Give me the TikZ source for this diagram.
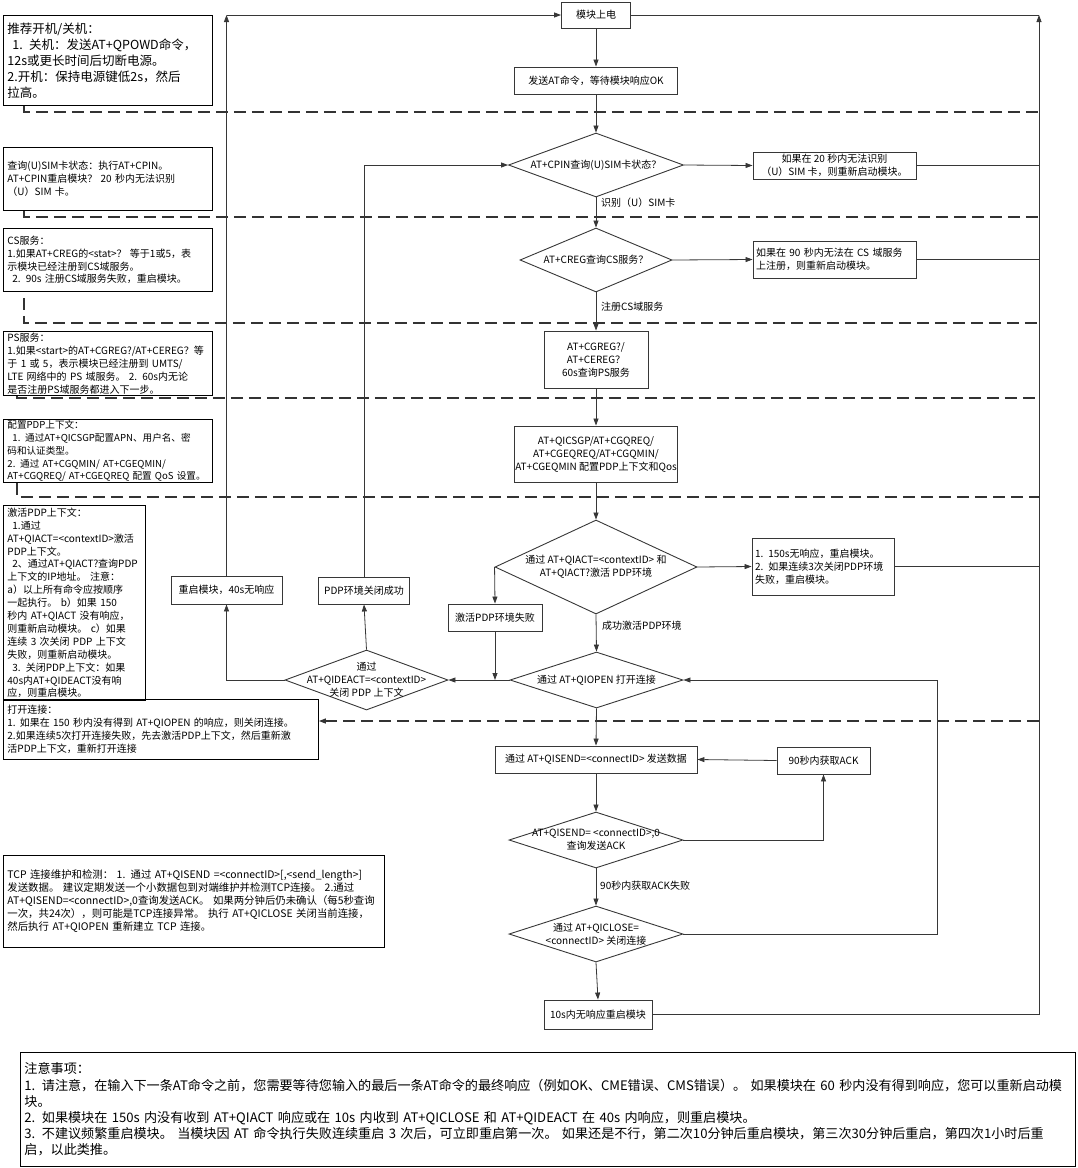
\documentclass[tikz,border=0pt]{standalone}
\usepackage{fontspec}
\setmainfont{Noto Sans CJK SC}
\usetikzlibrary{shapes.geometric, arrows.meta}
\definecolor{mygray}{RGB}{55,55,55}

\tikzset{
    box/.style={draw=mygray, line width=0.9pt, rectangle, inner sep=1pt, align=center, font=\fontsize{10}{13}\selectfont},
    notebox/.style={draw=black, line width=0.9pt, rectangle, anchor=north west, align=left, inner xsep=4pt, inner ysep=0pt, font=\fontsize{10}{12.9}\selectfont},
    decision/.style={draw=mygray, line width=0.9pt, diamond, inner sep=0pt},
    dectext/.style={align=center, font=\fontsize{10}{13}\selectfont, inner sep=0pt},
    arr/.style={draw=mygray, line width=0.8pt, -{Triangle[length=7pt,width=5pt]}},
    wire/.style={draw=mygray, line width=0.8pt},
    divider/.style={draw=black!80, line width=1.2pt, dash pattern=on 12pt off 6pt},
    edgetext/.style={anchor=west, font=\fontsize{10}{13}\selectfont, inner sep=1pt},
}

\begin{document}
\begin{tikzpicture}[x=1pt, y=-1pt]
    \useasboundingbox (0,0) rectangle (1077,1168);
    % Main flow
    \node[box, minimum width=69pt, minimum height=26pt] (PowerOn) at (596,15) {模块上电};
    \node[box, minimum width=163pt, minimum height=27pt] (SendAt) at (596,80.5) {发送AT命令，等待模块响应OK};
    \node[decision, minimum width=175pt, minimum height=64pt,
        label={[dectext]center:{AT+CPIN查询(U)SIM卡状态？}}] (CpinCheck) at (596,165) {};
    \node[box, minimum width=163pt, minimum height=27pt] (SimFail) at (834.5,165.5)
        {如果在 20 秒内无法识别\\（U）SIM 卡，则重新启动模块。};
    \node[decision, minimum width=152pt, minimum height=64pt,
        label={[dectext]center:{AT+CREG查询CS服务？}}] (CregCheck) at (596,260) {};
    \node[box, align=left, text width=157pt, inner xsep=3pt, minimum height=37pt] (CsFail) at (834.5,259.5)
        {如果在 90 秒内无法在 CS 域服务\\上注册，则重新启动模块。};
    \node[box, minimum width=104pt, minimum height=57pt] (PsQuery) at (596,359.5)
        {AT+CGREG?/\\AT+CEREG？\\60s查询PS服务};
    \node[box, minimum width=162pt, minimum height=56pt] (PdpConfig) at (596,454)
        {AT+QICSGP/AT+CGQREQ/\\AT+CGEQREQ/AT+CGQMIN/\\AT+CGEQMIN 配置PDP上下文和Qos};
    \node[decision, minimum width=202pt, minimum height=94pt,
        label={[dectext]center:{通过 AT+QIACT=<contextID> 和\\AT+QIACT?激活 PDP环境}}] (ActCheck) at (596,567) {};
    \node[box, align=left, text width=136pt, inner xsep=3pt, minimum height=57pt] (ActTimeout) at (823,566.5)
        {1. 150s无响应，重启模块。\\2. 如果连续3次关闭PDP环境\\失败，重启模块。};
    \node[box, minimum width=94pt, minimum height=27pt] (ActFail) at (495,617.5) {激活PDP环境失败};
    \node[decision, minimum width=173pt, minimum height=56pt,
        label={[dectext]center:{通过 AT+QIOPEN 打开连接}}] (OpenCheck) at (596.5,680) {};
    \node[decision, minimum width=163pt, minimum height=60pt,
        label={[dectext]center:{通过\\AT+QIDEACT=<contextID>\\关闭 PDP 上下文}}] (DeactCheck) at (366.5,680) {};
    \node[box, minimum width=111pt, minimum height=28pt] (RebootForty) at (226.5,590) {重启模块，40s无响应};
    \node[box, minimum width=91pt, minimum height=27pt] (PdpClosed) at (364,590.5) {PDP环境关闭成功};
    \node[box, minimum width=202pt, minimum height=27pt] (SendData) at (596,759.5) {通过 AT+QISEND=<connectID> 发送数据};
    \node[box, minimum width=93pt, minimum height=27pt] (AckWait) at (823.5,760.5) {90秒内获取ACK};
    \node[decision, minimum width=174pt, minimum height=56pt,
        label={[dectext]center:{AT+QISEND= <connectID>,0\\查询发送ACK}}] (AckCheck) at (596,840) {};
    \node[decision, minimum width=174pt, minimum height=56pt,
        label={[dectext]center:{通过 AT+QICLOSE=\\<connectID> 关闭连接}}] (CloseCheck) at (596,934) {};
    \node[box, minimum width=108pt, minimum height=29pt] (RebootTen) at (598,1014.5) {10s内无响应重启模块};

    % Branch labels
    \node[edgetext] (LblSim) at (600,203) {识别（U）SIM卡};
    \node[edgetext] (LblCs) at (600,307) {注册CS域服务};
    \node[edgetext] (LblAct) at (601,626) {成功激活PDP环境};
    \node[edgetext] (LblAck) at (599,886) {90秒内获取ACK失败};

    % Notes
    \node[notebox, text width=201pt, minimum height=90pt, font=\fontsize{12.5}{16}\selectfont] (NotePower) at (3,15)
        {推荐开机/关机：\\\hspace*{5pt}1. 关机：发送AT+QPOWD命令，\\12s或更长时间后切断电源。\\2.开机：保持电源键低2s，然后\\拉高。};
    \node[notebox, text width=201pt, minimum height=63pt] (NoteSim) at (3,147)
        {查询(U)SIM卡状态：执行AT+CPIN。\\AT+CPIN重启模块？ 20 秒内无法识别\\（U）SIM 卡。};
    \node[notebox, text width=201pt, minimum height=63pt] (NoteCs) at (3,228)
        {CS服务：\\1.如果AT+CREG的<stat>？ 等于1或5，表\\示模块已经注册到CS域服务。\\\hspace*{5pt}2. 90s 注册CS域服务失败，重启模块。};
    \node[notebox, text width=201pt, minimum height=64pt] (NotePs) at (3,331)
        {PS服务：\\1.如果<start>的AT+CGREG?/AT+CEREG？等\\于 1 或 5，表示模块已经注册到 UMTS/\\LTE 网络中的 PS 域服务。 2. 60s内无论\\是否注册PS域服务都进入下一步。};
    \node[notebox, text width=201pt, minimum height=63pt, font=\fontsize{9.6}{12.9}\selectfont] (NotePdp) at (3,419)
        {配置PDP上下文：\\\hspace*{5pt}1. 通过AT+QICSGP配置APN、用户名、密\\码和认证类型。\\2. 通过 AT+CGQMIN/ AT+CGEQMIN/\\AT+CGQREQ/ AT+CGEQREQ 配置 QoS 设置。};
    \node[notebox, text width=134pt, minimum height=195pt] (NoteAct) at (3,505)
        {激活PDP上下文：\\\hspace*{5pt}1.通过\\AT+QIACT=<contextID>激活\\PDP上下文。\\\hspace*{5pt}2、通过AT+QIACT?查询PDP\\上下文的IP地址。 注意：\\a）以上所有命令应按顺序\\一起执行。 b）如果 150\\秒内 AT+QIACT 没有响应，\\则重新启动模块。 c）如果\\连续 3 次关闭 PDP 上下文\\失败，则重新启动模块。\\\hspace*{5pt}3. 关闭PDP上下文：如果\\40s内AT+QIDEACT没有响\\应，则重启模块。};
    \node[notebox, text width=307pt, minimum height=60pt] (NoteOpen) at (3,699)
        {打开连接：\\1.\hspace*{4pt}如果在 150 秒内没有得到 AT+QIOPEN 的响应，则关闭连接。\\2.如果连续5次打开连接失败，先去激活PDP上下文，然后重新激\\活PDP上下文，重新打开连接};
    \node[notebox, text width=373pt, minimum height=92pt, font=\fontsize{10.4}{13}\selectfont] (NoteTcp) at (3,855)
        {TCP 连接维护和检测： 1. 通过 AT+QISEND =<connectID>[,<send\_length>]\\发送数据。 建议定期发送一个小数据包到对端维护并检测TCP连接。 2.通过\\AT+QISEND=<connectID>,0查询发送ACK。 如果两分钟后仍未确认（每5秒查询\\一次，共24次），则可能是TCP连接异常。 执行 AT+QICLOSE 关闭当前连接，\\然后执行 AT+QIOPEN 重新建立 TCP 连接。};
    \node[notebox, text width=1047pt, minimum height=114pt, font=\fontsize{13.1}{16.2}\selectfont] (NoteAll) at (20,1052)
        {注意事项：\\1. 请注意，在输入下一条AT命令之前，您需要等待您输入的最后一条AT命令的最终响应（例如OK、CME错误、CMS错误）。 如果模块在 60 秒内没有得到响应，您可以重新启动模\\块。\\2. 如果模块在 150s 内没有收到 AT+QIACT 响应或在 10s 内收到 AT+QICLOSE 和 AT+QIDEACT 在 40s 内响应，则重启模块。\\3. 不建议频繁重启模块。 当模块因 AT 命令执行失败连续重启 3 次后，可立即重启第一次。 如果还是不行，第二次10分钟后重启模块，第三次30分钟后重启，第四次1小时后重\\启，以此类推。};

    % Rails and cut lines
    \coordinate (RailTop) at (1039,15);
    \coordinate (LeftTop) at (RebootForty.north |- PowerOn.west);
    \coordinate (LoopCorner) at (937,934);
    \coordinate (CutA) at (1039,112);
    \coordinate (CutB) at (1039,217);
    \coordinate (CutC) at (1039,323);
    \coordinate (CutD) at (1039,398);
    \coordinate (CutE) at (1039,497);
    \coordinate (CutF) at (1039,721);
    \coordinate (JoinFail) at (ActFail.south |- OpenCheck.west);

    \draw[divider] ([xshift=21pt]NotePower.south west) |- (CutA);
    \draw[divider] ([xshift=21pt]NoteSim.south west) |- (CutB);
    \draw[divider] ([xshift=21pt,yshift=-6pt]NoteCs.south west) |- (CutC);
    \draw[divider] ([xshift=14pt]NotePs.south west) |- (CutD);
    \draw[divider] ([xshift=14pt]NotePdp.south west) |- (CutE);
    \draw[divider, -{Triangle[length=7pt,width=5pt]}] (CutF) -- (NoteOpen.east |- CutF);

    % Connectors
    \draw[arr] (PowerOn) -- (SendAt);
    \draw[arr] (SendAt) -- (CpinCheck.north);
    \draw[arr] (CpinCheck.east) -- (SimFail.west);
    \draw[wire] (SimFail.east) -- (SimFail.east -| RailTop);
    \draw[arr] (CpinCheck.south) -- (CregCheck.north);
    \draw[arr] (CregCheck.east) -- (CsFail.west);
    \draw[wire] (CsFail.east) -- (CsFail.east -| RailTop);
    \draw[arr] (CregCheck.south) -- (PsQuery.north);
    \draw[arr] (PsQuery) -- (PdpConfig);
    \draw[arr] (PdpConfig) -- (ActCheck.north);
    \draw[arr] (ActCheck.east) -- (ActTimeout.west);
    \draw[wire] (ActTimeout.east) -- (ActTimeout.east -| RailTop);
    \draw[arr] (ActCheck.west) -- (ActFail.north);
    \draw[arr] (ActCheck.south) -- (OpenCheck.north);
    \draw[arr] (ActFail.south) -- (JoinFail);
    \draw[arr] (OpenCheck.west) -- (DeactCheck.east);
    \draw[arr] (DeactCheck.west) -| (RebootForty.south);
    \draw[arr] (DeactCheck.north) -- (PdpClosed.south);
    \draw[arr] (RebootForty.north) -- (LeftTop);
    \draw[arr] (LeftTop) -- (PowerOn.west);
    \draw[arr] (PdpClosed.north) |- (CpinCheck.west);
    \draw[arr] (OpenCheck.south) -- (SendData.north);
    \draw[arr] (SendData) -- (AckCheck.north);
    \draw[arr] (AckCheck.east) -| (AckWait.south);
    \draw[arr] (AckWait.west) -- (SendData.east);
    \draw[arr] (AckCheck.south) -- (CloseCheck.north);
    \draw[arr] (CloseCheck.east) -- (LoopCorner) |- (OpenCheck.east);
    \draw[arr] (CloseCheck.south) -- (RebootTen.north);
    \draw[arr] (RebootTen.east) -| (RailTop);
    \draw[wire] (RailTop) -- (PowerOn.east);
\end{tikzpicture}
\end{document}
